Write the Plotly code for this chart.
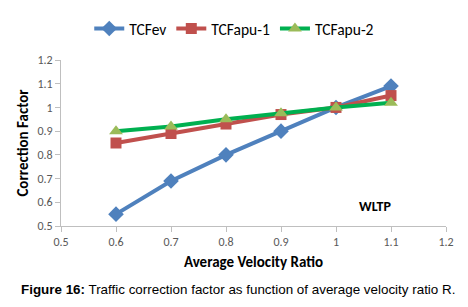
import plotly.graph_objects as go

x_vals = [0.6, 0.7, 0.8, 0.9, 1.0, 1.1]
tcf_ev = [0.55, 0.69, 0.80, 0.90, 1.00, 1.09]
tcf_apu1 = [0.85, 0.89, 0.93, 0.97, 1.00, 1.05]
tcf_apu2 = [0.90, 0.92, 0.95, 0.975, 1.00, 1.02]

FONT = "Carlito, Lato, 'Open Sans', sans-serif"

fig = go.Figure()
fig.add_trace(go.Scatter(x=x_vals, y=tcf_ev, name="TCFev", mode="lines+markers",
                         line=dict(color="#4F81BD", width=4),
                         marker=dict(symbol="diamond", size=12, color="#4F81BD")))
fig.add_trace(go.Scatter(x=x_vals, y=tcf_apu1, name="TCFapu-1", mode="lines+markers",
                         line=dict(color="#C0504D", width=4),
                         marker=dict(symbol="square", size=11, color="#C0504D")))
fig.add_trace(go.Scatter(x=x_vals, y=tcf_apu2, name="TCFapu-2", mode="lines+markers",
                         line=dict(color="#00B050", width=4),
                         marker=dict(symbol="triangle-up", size=12, color="#9BBB59")))

fig.update_layout(
    width=452, height=291,
    margin=dict(l=53, r=14, t=52, b=73, autoexpand=False),
    paper_bgcolor="white", plot_bgcolor="white",
    font=dict(family=FONT, size=12, color="#595959"),
    legend=dict(orientation="h", x=0.45, xanchor="center", y=1.187, yanchor="middle",
                font=dict(size=15.5, color="black"), itemwidth=30, tracegroupgap=0),
    xaxis=dict(range=[0.5, 1.2], tickvals=[0.5, 0.6, 0.7, 0.8, 0.9, 1.0, 1.1, 1.2],
               ticktext=["0.5", "0.6", "0.7", "0.8", "0.9", "1", "1.1", "1.2"],
               showgrid=False, zeroline=False, showline=True, linecolor="#BFBFBF", linewidth=1,
               ticks="outside", tickcolor="#BFBFBF", ticklen=5,
               title=dict(text="<b>Average Velocity Ratio</b>", font=dict(size=15, color="black"), standoff=8)),
    yaxis=dict(range=[0.5, 1.2], tickvals=[0.5, 0.6, 0.7, 0.8, 0.9, 1.0, 1.1, 1.2],
               ticktext=["0.5", "0.6", "0.7", "0.8", "0.9", "1", "1.1", "1.2"],
               showgrid=False, zeroline=False, showline=True, linecolor="#BFBFBF", linewidth=1,
               ticks="outside", tickcolor="#BFBFBF", ticklen=5,
               title=dict(text="<b>Correction Factor</b>", font=dict(size=15, color="black"), standoff=5)),
    annotations=[
        dict(x=1.071, y=0.584, xref="x", yref="y", text="<b>WLTP</b>", showarrow=False,
             font=dict(size=14, color="black", family=FONT)),
        dict(x=0.46, y=-0.385, xref="paper", yref="paper", xanchor="center", yanchor="middle",
             text="<b>Figure 16:</b> Traffic correction factor as function of average velocity ratio R.",
             showarrow=False, font=dict(size=13.4, color="black", family="'Liberation Sans', Arial, sans-serif")),
    ],
)

fig.write_html("out.html")
